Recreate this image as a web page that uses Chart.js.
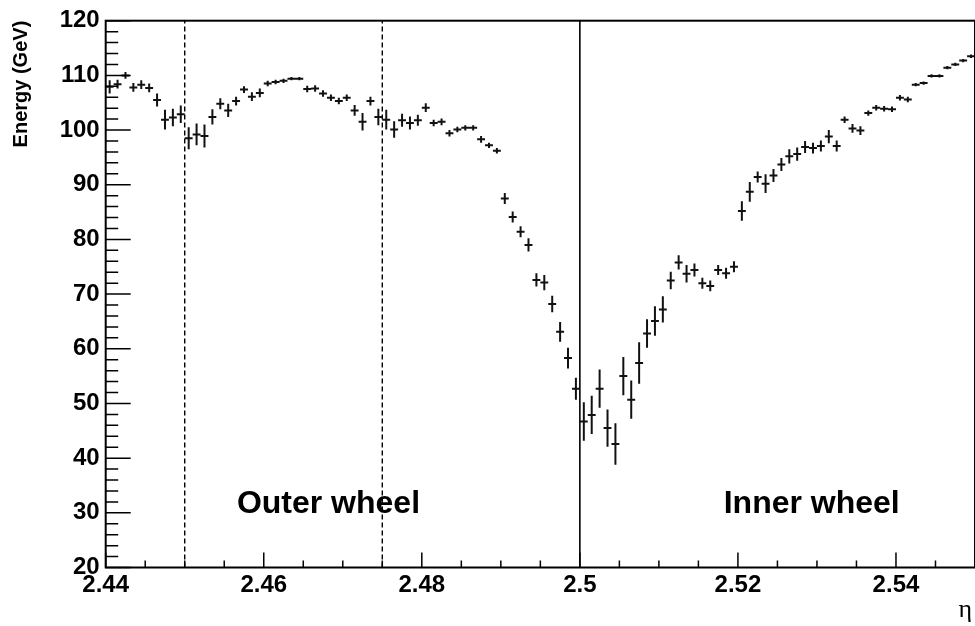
<!DOCTYPE html>
<html>
<head>
<meta charset="utf-8">
<script src="https://cdn.jsdelivr.net/npm/chart.js@4.4.1/dist/chart.umd.min.js"></script>
<style>
  html, body { margin: 0; padding: 0; background: #fff; overflow: hidden; }
  canvas { display: block; }
</style>
</head>
<body>
<canvas id="chart-energy" width="978" height="626"></canvas>
<script>
// histogram binning along eta (bin centres = start + width * (i + 0.5))
const etaStart = 2.44;
const binWidth = 0.001;

// mean energy per bin (GeV)
const energy = [
  107.9, 108.4, 110.0, 107.8, 108.3, 107.7, 105.5, 101.9, 102.3, 102.9,
  98.5, 99.2, 98.9, 102.4, 104.8, 103.6, 105.3, 107.4, 106.1, 106.8,
  108.5, 108.8, 109.0, 109.4, 109.4, 107.5, 107.6, 106.7, 105.9, 105.3,
  105.9, 103.6, 101.5, 105.3, 102.4, 101.9, 100.1, 101.8, 101.3, 101.8,
  104.1, 101.3, 101.5, 99.4, 100.1, 100.4, 100.4, 98.3, 97.2, 96.2,
  87.5, 84.1, 81.4, 79.0, 72.6, 72.1, 68.2, 63.1, 58.3, 52.7,
  46.7, 47.9, 52.7, 45.5, 42.6, 55.0, 50.7, 57.4, 62.8, 65.1,
  67.2, 72.5, 75.8, 73.7, 74.4, 72.0, 71.5, 74.4, 73.8, 75.0,
  85.2, 88.7, 91.4, 90.2, 91.7, 93.7, 95.2, 95.6, 96.9, 96.7,
  97.1, 98.8, 97.1, 101.9, 100.3, 99.9, 103.1, 104.1, 103.9, 103.8,
  105.9, 105.6, 108.3, 108.6, 109.9, 109.9, 111.4, 112.0, 112.7, 113.5
];

// statistical error on the mean (GeV)
const energyErr = [
  1.2, 0.8, 0.6, 0.8, 0.8, 0.8, 1.2, 1.8, 1.6, 1.6,
  2.0, 2.0, 2.1, 1.4, 1.0, 1.2, 0.8, 0.6, 0.8, 0.8,
  0.5, 0.4, 0.4, 0.3, 0.3, 0.6, 0.6, 0.6, 0.6, 0.6,
  0.6, 1.0, 1.6, 0.8, 1.5, 1.8, 1.5, 1.2, 1.2, 1.0,
  0.8, 0.6, 0.6, 0.6, 0.5, 0.5, 0.5, 0.6, 0.5, 0.5,
  1.0, 1.0, 1.0, 1.2, 1.2, 1.4, 1.5, 1.8, 1.9, 2.0,
  3.5, 3.5, 3.5, 3.4, 3.8, 3.5, 3.5, 3.8, 2.6, 2.7,
  2.4, 1.6, 1.3, 1.6, 1.2, 1.0, 1.0, 0.9, 1.0, 1.0,
  1.8, 1.8, 1.0, 1.7, 1.2, 1.2, 1.3, 1.2, 1.1, 1.0,
  1.0, 1.2, 1.0, 0.6, 0.8, 0.8, 0.5, 0.5, 0.5, 0.5,
  0.5, 0.5, 0.3, 0.3, 0.3, 0.3, 0.3, 0.3, 0.3, 0.3
];

// wheel boundaries
const dashedEta = [2.45, 2.475];
const solidEta = [2.5];

// axes
const xMin = 2.44, xMax = 2.55, xMinorStep = 0.005;
const yMin = 20, yMax = 120, yMinorStep = 2;
const xTickLabels = ['2.44', '2.46', '2.48', '2.5', '2.52', '2.54'];
const yTickLabels = ['20', '30', '40', '50', '60', '70', '80', '90', '100', '110', '120'];
const xAxisTitle = 'η';

// region captions
const regionNames = ['Outer wheel', 'Inner wheel'];
const regionEta = [2.4566, 2.5182];
const regionEnergy = [30, 30];

Chart.defaults.font.family = '"Liberation Sans", Arial, sans-serif';
Chart.defaults.color = '#000';

const fmt = v => String(+v.toFixed(4));

function tickValues(lo, hi, step) {
  const out = [];
  const n = Math.round((hi - lo) / step);
  for (let i = 0; i <= n; i++) out.push({ value: +(lo + i * step).toFixed(4) });
  return out;
}

const points = energy.map((e, i) => ({ x: etaStart + binWidth * (i + 0.5), y: e, err: energyErr[i] }));

function boundaryDataset(eta, dashed) {
  return {
    type: 'line', data: [{ x: eta, y: yMin }, { x: eta, y: yMax }],
    borderColor: '#000', borderWidth: dashed ? 1.4 : 1.6, borderDash: dashed ? [5, 3] : [],
    pointRadius: 0, fill: false, order: 2,
  };
}

// error-bar crosses, drawn through the scales
const errorBars = {
  id: 'errorBars',
  afterDatasetsDraw(chart) {
    const { ctx, chartArea, scales: { x, y } } = chart;
    ctx.save();
    ctx.beginPath();
    ctx.rect(chartArea.left, chartArea.top, chartArea.width, chartArea.height);
    ctx.clip();
    ctx.strokeStyle = '#111';
    ctx.lineWidth = 2;
    ctx.beginPath();
    points.forEach(p => {
      const px = x.getPixelForValue(p.x), py = y.getPixelForValue(p.y);
      const x0 = x.getPixelForValue(p.x - binWidth / 2), x1 = x.getPixelForValue(p.x + binWidth / 2);
      const y0 = y.getPixelForValue(p.y - p.err), y1 = y.getPixelForValue(p.y + p.err);
      ctx.moveTo(x0, py); ctx.lineTo(x1, py);
      ctx.moveTo(px, Math.max(y0, py + 1)); ctx.lineTo(px, Math.min(y1, py - 1));
    });
    ctx.stroke();
    ctx.restore();
  },
};

// ROOT-like frame with inward ticks, captions and the eta label
const frame = {
  id: 'frame',
  afterDraw(chart) {
    const { ctx, chartArea: a, scales: { x, y } } = chart;
    ctx.save();
    ctx.strokeStyle = '#000';
    ctx.lineWidth = 1.5;
    ctx.beginPath();
    x.ticks.forEach(t => {
      const px = x.getPixelForValue(t.value);
      const major = xTickLabels.includes(fmt(t.value));
      ctx.moveTo(px, a.bottom); ctx.lineTo(px, a.bottom - (major ? 15 : 7));
    });
    y.ticks.forEach(t => {
      const py = y.getPixelForValue(t.value);
      const major = yTickLabels.includes(fmt(t.value));
      ctx.moveTo(a.left, py); ctx.lineTo(a.left + (major ? 25 : 12.5), py);
    });
    ctx.stroke();
    ctx.lineWidth = 2;
    ctx.strokeRect(a.left, a.top, a.right - a.left, a.bottom - a.top);

    ctx.fillStyle = '#000';
    ctx.font = 'bold 32px "Liberation Sans", Arial, sans-serif';
    ctx.textAlign = 'left';
    ctx.textBaseline = 'alphabetic';
    regionNames.forEach((name, i) => {
      ctx.fillText(name, x.getPixelForValue(regionEta[i]), y.getPixelForValue(regionEnergy[i]));
    });

    ctx.font = '26px "Liberation Serif", "Times New Roman", serif';
    ctx.textAlign = 'right';
    ctx.fillText(xAxisTitle, a.right - 3, a.bottom + 49);
    ctx.restore();
  },
};

new Chart(document.getElementById('chart-energy'), {
  type: 'scatter',
  data: {
    datasets: [
      { label: 'Energy', data: points, pointRadius: 0, pointHoverRadius: 0, order: 1 },
      ...dashedEta.map(e => boundaryDataset(e, true)),
      ...solidEta.map(e => boundaryDataset(e, false)),
    ],
  },
  options: {
    responsive: false, animation: false,
    layout: { padding: { top: 20.7, right: 1.1, left: 0, bottom: 0 } },
    plugins: { legend: { display: false }, tooltip: { enabled: false } },
    scales: {
      x: {
        type: 'linear', min: xMin, max: xMax,
        afterBuildTicks: s => { s.ticks = tickValues(xMin, xMax, xMinorStep); },
        afterFit: s => { s.height = 58.5; },
        grid: { display: false, drawTicks: false }, border: { display: false },
        ticks: {
          autoSkip: false, maxRotation: 0, padding: 3,
          font: { size: 24, weight: 'bold' },
          callback: v => (xTickLabels.includes(fmt(v)) ? fmt(v) : ''),
        },
      },
      y: {
        type: 'linear', min: yMin, max: yMax,
        afterBuildTicks: s => { s.ticks = tickValues(yMin, yMax, yMinorStep); },
        afterFit: s => { s.width = 105.7; },
        grid: { display: false, drawTicks: false }, border: { display: false },
        ticks: {
          autoSkip: false, padding: 6,
          font: { size: 24, weight: 'bold' },
          callback: v => (yTickLabels.includes(fmt(v)) ? fmt(v) : ''),
        },
        title: { display: true, text: 'Energy (GeV)', align: 'end', padding: { top: 9, bottom: 0 },
                 font: { size: 20, weight: 'bold' } },
      },
    },
  },
  plugins: [errorBars, frame],
});
</script>
</body>
</html>
